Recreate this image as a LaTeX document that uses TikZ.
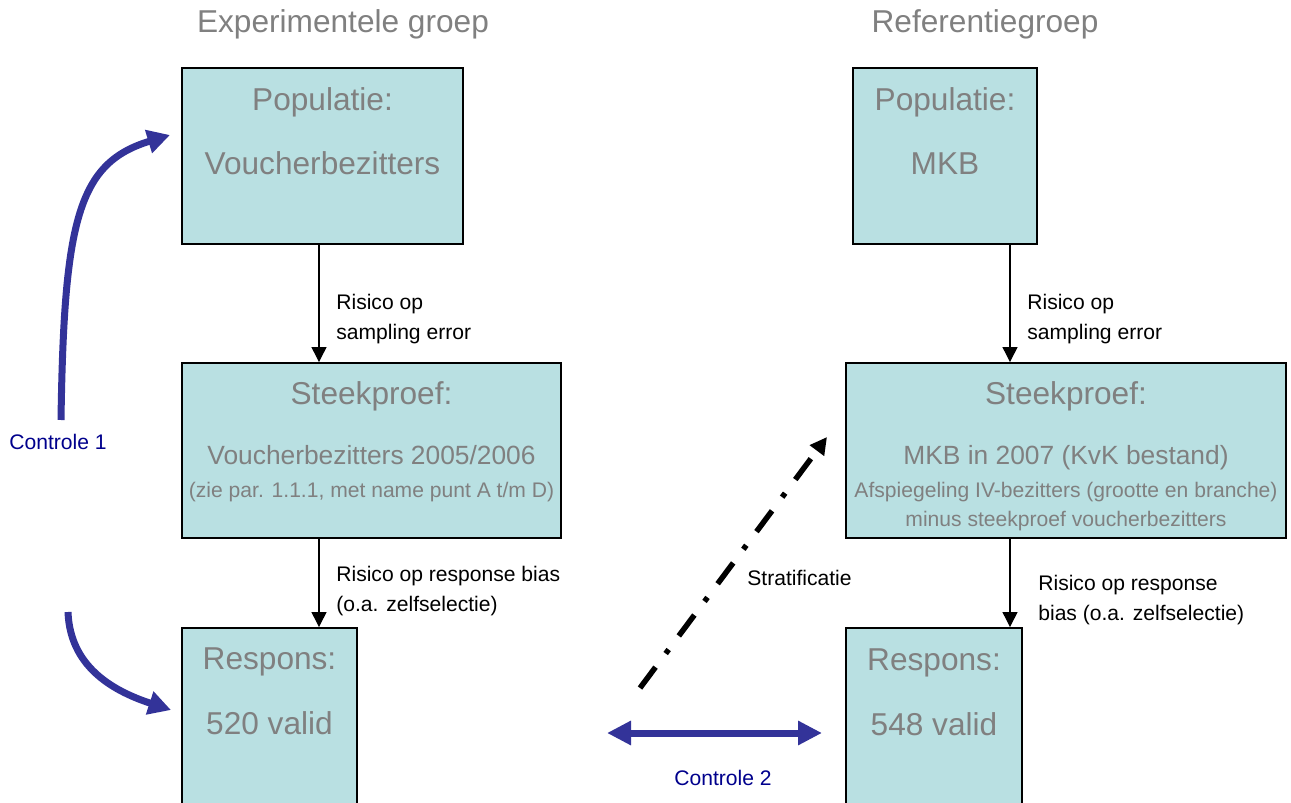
\documentclass[tikz,border=0pt]{standalone}
\usepackage{fontspec}
\setmainfont{Liberation Sans}
\usetikzlibrary{arrows.meta}
\definecolor{boxfill}{RGB}{185,224,226}
\definecolor{txtgray}{RGB}{128,128,128}
\definecolor{arrowblue}{RGB}{51,51,153}
\definecolor{ctrlblue}{RGB}{0,0,140}
\begin{document}
\begin{tikzpicture}[x=0.02cm,y=-0.02cm]
	\tikzstyle{box}=[rectangle,draw=black,line width=1.1pt,fill=boxfill,inner sep=0pt]
	\tikzstyle{head}=[text=txtgray,font=\fontsize{18}{21}\selectfont,inner sep=0pt,anchor=mid]
	\tikzstyle{sub}=[text=txtgray,font=\fontsize{15}{18}\selectfont,inner sep=0pt,anchor=mid]
	\tikzstyle{note}=[text=txtgray,font=\fontsize{12}{14}\selectfont,inner sep=0pt,anchor=mid]
	\tikzstyle{risk}=[font=\fontsize{12}{17}\selectfont,align=left,inner sep=0pt,anchor=west]
	\tikzstyle{edge}=[draw=black,line width=0.7pt,-{Triangle[length=0.3cm,width=0.3cm]}]
	\tikzstyle{ctrl}=[draw=arrowblue,line width=0.14cm,-{Triangle[length=0.45cm,width=0.46cm]}]
	\tikzstyle{ctrltext}=[text=ctrlblue,font=\fontsize{12}{14}\selectfont,inner sep=0pt]

	\useasboundingbox (0,0) rectangle (1291,803);
	\clip (0,0) rectangle (1291,803);

	% titles
	\node [head] (g1) at (343,28) {Experimentele groep};
	\node [head] (g2) at (985,28) {Referentiegroep};

	% boxes
	\node [box,minimum width=5.62cm,minimum height=3.52cm] (1) at (322.5,156) {};
	\node [box,minimum width=3.68cm,minimum height=3.52cm] (2) at (945,156) {};
	\node [box,minimum width=7.58cm,minimum height=3.5cm] (3) at (371.5,450.5) {};
	\node [box,minimum width=8.8cm,minimum height=3.5cm] (4) at (1066,450.5) {};
	\node [box,minimum width=3.5cm,minimum height=4.24cm] (5) at (269.5,734) {};
	\node [box,minimum width=3.52cm,minimum height=4.24cm] (6) at (934,734) {};

	\node [head] (1a) at (322.5,106) {Populatie:};
	\node [head] (1b) at (322.5,170) {Voucherbezitters};
	\node [head] (2a) at (945,106) {Populatie:};
	\node [head] (2b) at (945,170) {MKB};
	\node [head] (3a) at (371.5,400) {Steekproef:};
	\node [sub] (3b) at (371.5,460) {Voucherbezitters 2005/2006};
	\node [note] (3c) at (371.5,493) {(zie par. 1.1.1, met name punt A t/m D)};
	\node [head] (4a) at (1066,400) {Steekproef:};
	\node [sub] (4b) at (1066,460) {MKB in 2007 (KvK bestand)};
	\node [note] (4c) at (1066,493) {Afspiegeling IV-bezitters (grootte en branche)};
	\node [note] (4d) at (1066,522) {minus steekproef voucherbezitters};
	\node [head] (5a) at (269.5,665) {Respons:};
	\node [head] (5b) at (269.5,730) {520 valid};
	\node [head] (6a) at (934,666) {Respons:};
	\node [head] (6b) at (934,731) {548 valid};

	% risks
	\coordinate (l) at (319,0);
	\coordinate (r) at (1010,0);
	\path[edge] (1.south -| l) -- (3.north -| l);
	\path[edge] (3.south -| l) -- (5.north -| l);
	\path[edge] (2.south -| r) -- (4.north -| r);
	\path[edge] (4.south -| r) -- (6.north -| r);

	\node [risk] (r1) at (336,319) {Risico op\\sampling error};
	\node [risk] (r2) at (336,591) {Risico op response bias\\(o.a. zelfselectie)};
	\node [risk] (r3) at (1027,319) {Risico op\\sampling error};
	\node [risk] (r4) at (1038,600) {Risico op response\\bias (o.a. zelfselectie)};

	% controle 1
	\coordinate (c1s) at (61,420);
	\coordinate (c1e) at (170,135);
	\coordinate (c1t) at (68,612);
	\coordinate (c1f) at (171,710);
	\draw [ctrl] (c1s) .. controls (64,220) and (78,163) .. (c1e);
	\draw [ctrl] (c1t) .. controls (70,665) and (110,690) .. (c1f);
	\node [ctrltext] (k1) at (58,442) {Controle 1};

	% controle 2
	\coordinate (c2a) at (607,733);
	\coordinate (c2b) at (822,733);
	\draw [draw=arrowblue,line width=0.14cm,{Triangle[length=0.48cm,width=0.46cm]}-{Triangle[length=0.48cm,width=0.46cm]}] (c2a) -- (c2b);
	\node [ctrltext] (k2) at (723,778) {Controle 2};

	% stratificatie
	\coordinate (s0) at (640,688);
	\coordinate (s1) at (827,437);
	\draw [line width=0.11cm,dash pattern=on 0.52cm off 0.34cm on 0.1cm off 0.34cm,-{Triangle[length=0.34cm,width=0.34cm]}] (s0) -- (s1);
	\node [font=\fontsize{12}{14}\selectfont,inner sep=0pt,anchor=west] (st) at (747,578) {Stratificatie};

\end{tikzpicture}
\end{document}
